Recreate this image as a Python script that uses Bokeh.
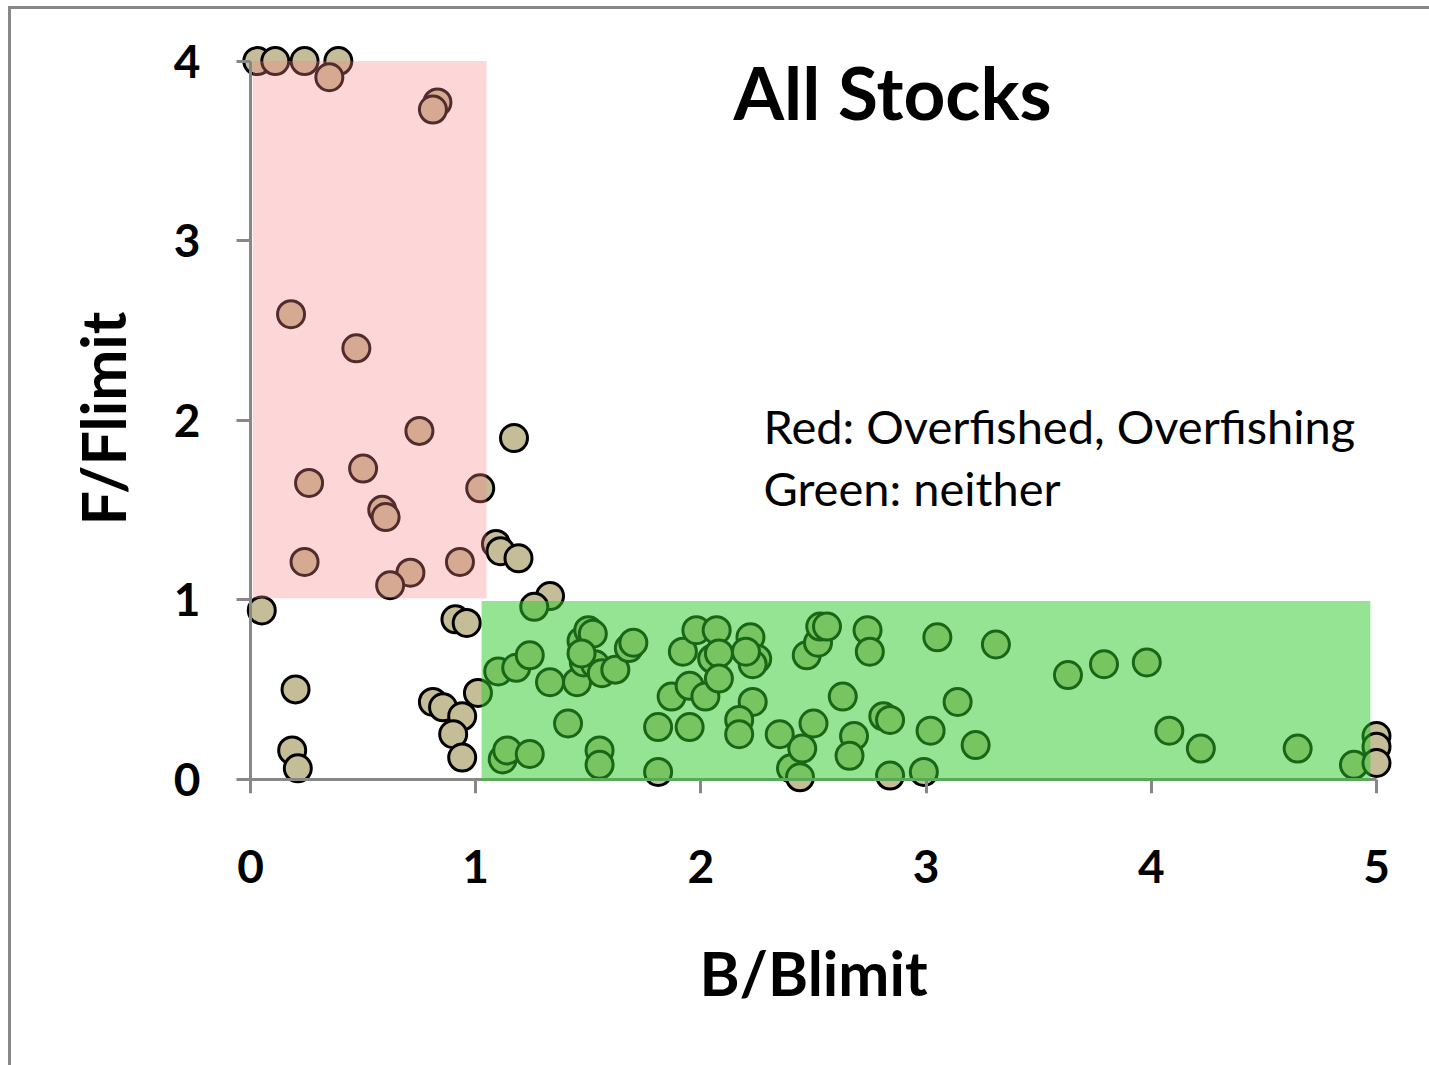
from bokeh.plotting import figure
from bokeh.models import (Range1d, BoxAnnotation, Label, FixedTicker,
                          ColumnDataSource, LinearAxis)
from bokeh.embed import file_html
from bokeh.resources import INLINE

# Stock status: biomass relative to limit (B/Blimit) and fishing mortality relative to limit (F/Flimit)
b_ratio = [
    0.03, 0.11, 0.24, 0.39, 0.35, 0.83, 0.81, 0.18, 0.47, 0.75,
    1.17, 0.50, 0.26, 1.02, 0.585, 0.60, 1.09, 1.11, 1.19, 0.24,
    0.93, 0.71, 0.62, 1.33, 0.05, 0.91, 0.96, 0.20, 1.01, 0.81,
    0.855, 0.94, 0.90, 0.94, 0.185, 0.21,
    1.26, 1.10, 1.18, 1.24, 1.33, 1.45, 1.41, 1.12, 1.14, 1.24,
    1.47, 1.50, 1.52, 1.48, 1.53, 1.56, 1.62, 1.55, 1.55, 1.68,
    1.70, 1.81, 1.81, 1.92, 1.98, 2.07, 1.87, 1.95, 2.02, 1.95,
    2.05, 2.08, 2.08, 2.22, 2.25, 2.23, 2.20, 2.23, 2.17, 2.17,
    2.35, 2.40, 2.44, 2.45, 2.50, 2.47, 2.52, 2.53, 2.56, 2.63,
    2.68, 2.66, 2.74, 2.75, 2.81, 2.84, 2.84, 2.99, 3.02, 3.05,
    3.14, 3.22, 3.31, 3.63, 3.79, 3.98, 4.08, 4.22, 4.65, 4.90,
    5.00, 5.00, 5.00, 1.47,
]
f_ratio = [
    4.00, 4.00, 4.00, 4.00, 3.91, 3.77, 3.73, 2.59, 2.40, 1.94,
    1.90, 1.73, 1.65, 1.62, 1.50, 1.46, 1.31, 1.27, 1.23, 1.21,
    1.21, 1.15, 1.08, 1.02, 0.94, 0.89, 0.87, 0.50, 0.48, 0.43,
    0.40, 0.35, 0.25, 0.12, 0.16, 0.06,
    0.96, 0.60, 0.62, 0.69, 0.54, 0.54, 0.31, 0.11, 0.16, 0.14,
    0.77, 0.83, 0.81, 0.65, 0.64, 0.59, 0.61, 0.16, 0.08, 0.73,
    0.76, 0.29, 0.04, 0.71, 0.83, 0.83, 0.46, 0.52, 0.46, 0.29,
    0.67, 0.70, 0.56, 0.79, 0.67, 0.64, 0.71, 0.43, 0.33, 0.25,
    0.25, 0.06, 0.01, 0.17, 0.31, 0.69, 0.76, 0.85, 0.85, 0.46,
    0.24, 0.13, 0.83, 0.71, 0.35, 0.33, 0.02, 0.04, 0.27, 0.79,
    0.43, 0.19, 0.75, 0.58, 0.64, 0.65, 0.27, 0.17, 0.17, 0.08,
    0.24, 0.18, 0.09, 0.70,
]

x_ticks = [0, 1, 2, 3, 4, 5]
y_ticks = [0, 1, 2, 3, 4]

# Status zones: overfished & overfishing (red), neither (green)
red_zone = dict(left=0.01, right=1.048, bottom=1.008, top=4.0)
green_zone = dict(left=1.026, right=4.973, bottom=-0.01, top=0.992)

title_text = "All Stocks"
note_lines = ["Red: Overfished, Overfishing", "Green: neither"]

GRAY = "#878787"
FONT = "Lato"

p = figure(
    frame_width=1162, frame_height=750,
    x_range=Range1d(-0.08, 5.08), y_range=Range1d(-0.08, 4.098),
    output_backend="svg", toolbar_location=None,
    min_border_left=221, min_border_right=35,
    min_border_top=34, min_border_bottom=272,
    background_fill_color="white", border_fill_color="white",
)
p.outline_line_color = None
p.grid.visible = False
p.margin = (6, 0, 0, 8)
p.styles = {"border-top": f"3px solid {GRAY}", "border-left": f"3px solid {GRAY}"}

src = ColumnDataSource(data=dict(b=b_ratio, f=f_ratio))
p.scatter("b", "f", source=src, size=27, fill_color="#c5bd98",
          line_color="black", line_width=3)

p.add_layout(BoxAnnotation(**red_zone, fill_color="rgb(249,130,137)",
                           fill_alpha=0.33, line_color=None))
p.add_layout(BoxAnnotation(**green_zone, fill_color="rgb(45,202,45)",
                           fill_alpha=0.51, line_color=None))

# Outer axes carry the tick labels and axis titles only
for ax, ticks in ((p.xaxis[0], x_ticks), (p.yaxis[0], y_ticks)):
    ax.ticker = FixedTicker(ticks=ticks)
    ax.axis_line_color = None
    ax.major_tick_line_color = None
    ax.minor_tick_line_color = None
    ax.major_tick_in = 0
    ax.major_tick_out = 0
    ax.major_label_text_font = FONT
    ax.major_label_text_font_style = "bold"
    ax.major_label_text_font_size = "46px"
    ax.major_label_text_color = "black"
    ax.axis_label_text_font = FONT
    ax.axis_label_text_font_style = "bold"
    ax.axis_label_text_font_size = "61px"
    ax.axis_label_text_color = "black"

p.xaxis[0].axis_label = "B/Blimit"
p.yaxis[0].axis_label = "F/Flimit"
p.xaxis[0].major_label_standoff = 56
p.yaxis[0].major_label_standoff = 32
p.xaxis[0].axis_label_standoff = 50
p.yaxis[0].axis_label_standoff = 32

# Axis lines and ticks pinned at the origin
for side, ticks, bnds in (("below", x_ticks, (0, 5)), ("left", y_ticks, (0, 4))):
    line_ax = LinearAxis(
        fixed_location=0, bounds=bnds, ticker=FixedTicker(ticks=ticks),
        axis_line_color=GRAY, axis_line_width=3,
        major_tick_line_color=GRAY, major_tick_line_width=3,
        major_tick_in=0, major_tick_out=14, minor_tick_line_color=None,
        major_label_text_font_size="0px", major_label_text_alpha=0,
    )
    p.add_layout(line_ax, side)

p.add_layout(Label(x=2.851, y=3.83, text=title_text, text_font=FONT,
                   text_font_style="bold", text_font_size="73px",
                   text_color="black",
                   text_align="center", text_baseline="alphabetic"))
for line, yb in zip(note_lines, [1.966, 1.621]):
    p.add_layout(Label(x=2.278, y=yb, text=line, text_font=FONT,
                       text_font_size="47px", text_color="black",
                       text_align="left", text_baseline="alphabetic"))

open("out.html", "w").write(file_html(p, INLINE))
